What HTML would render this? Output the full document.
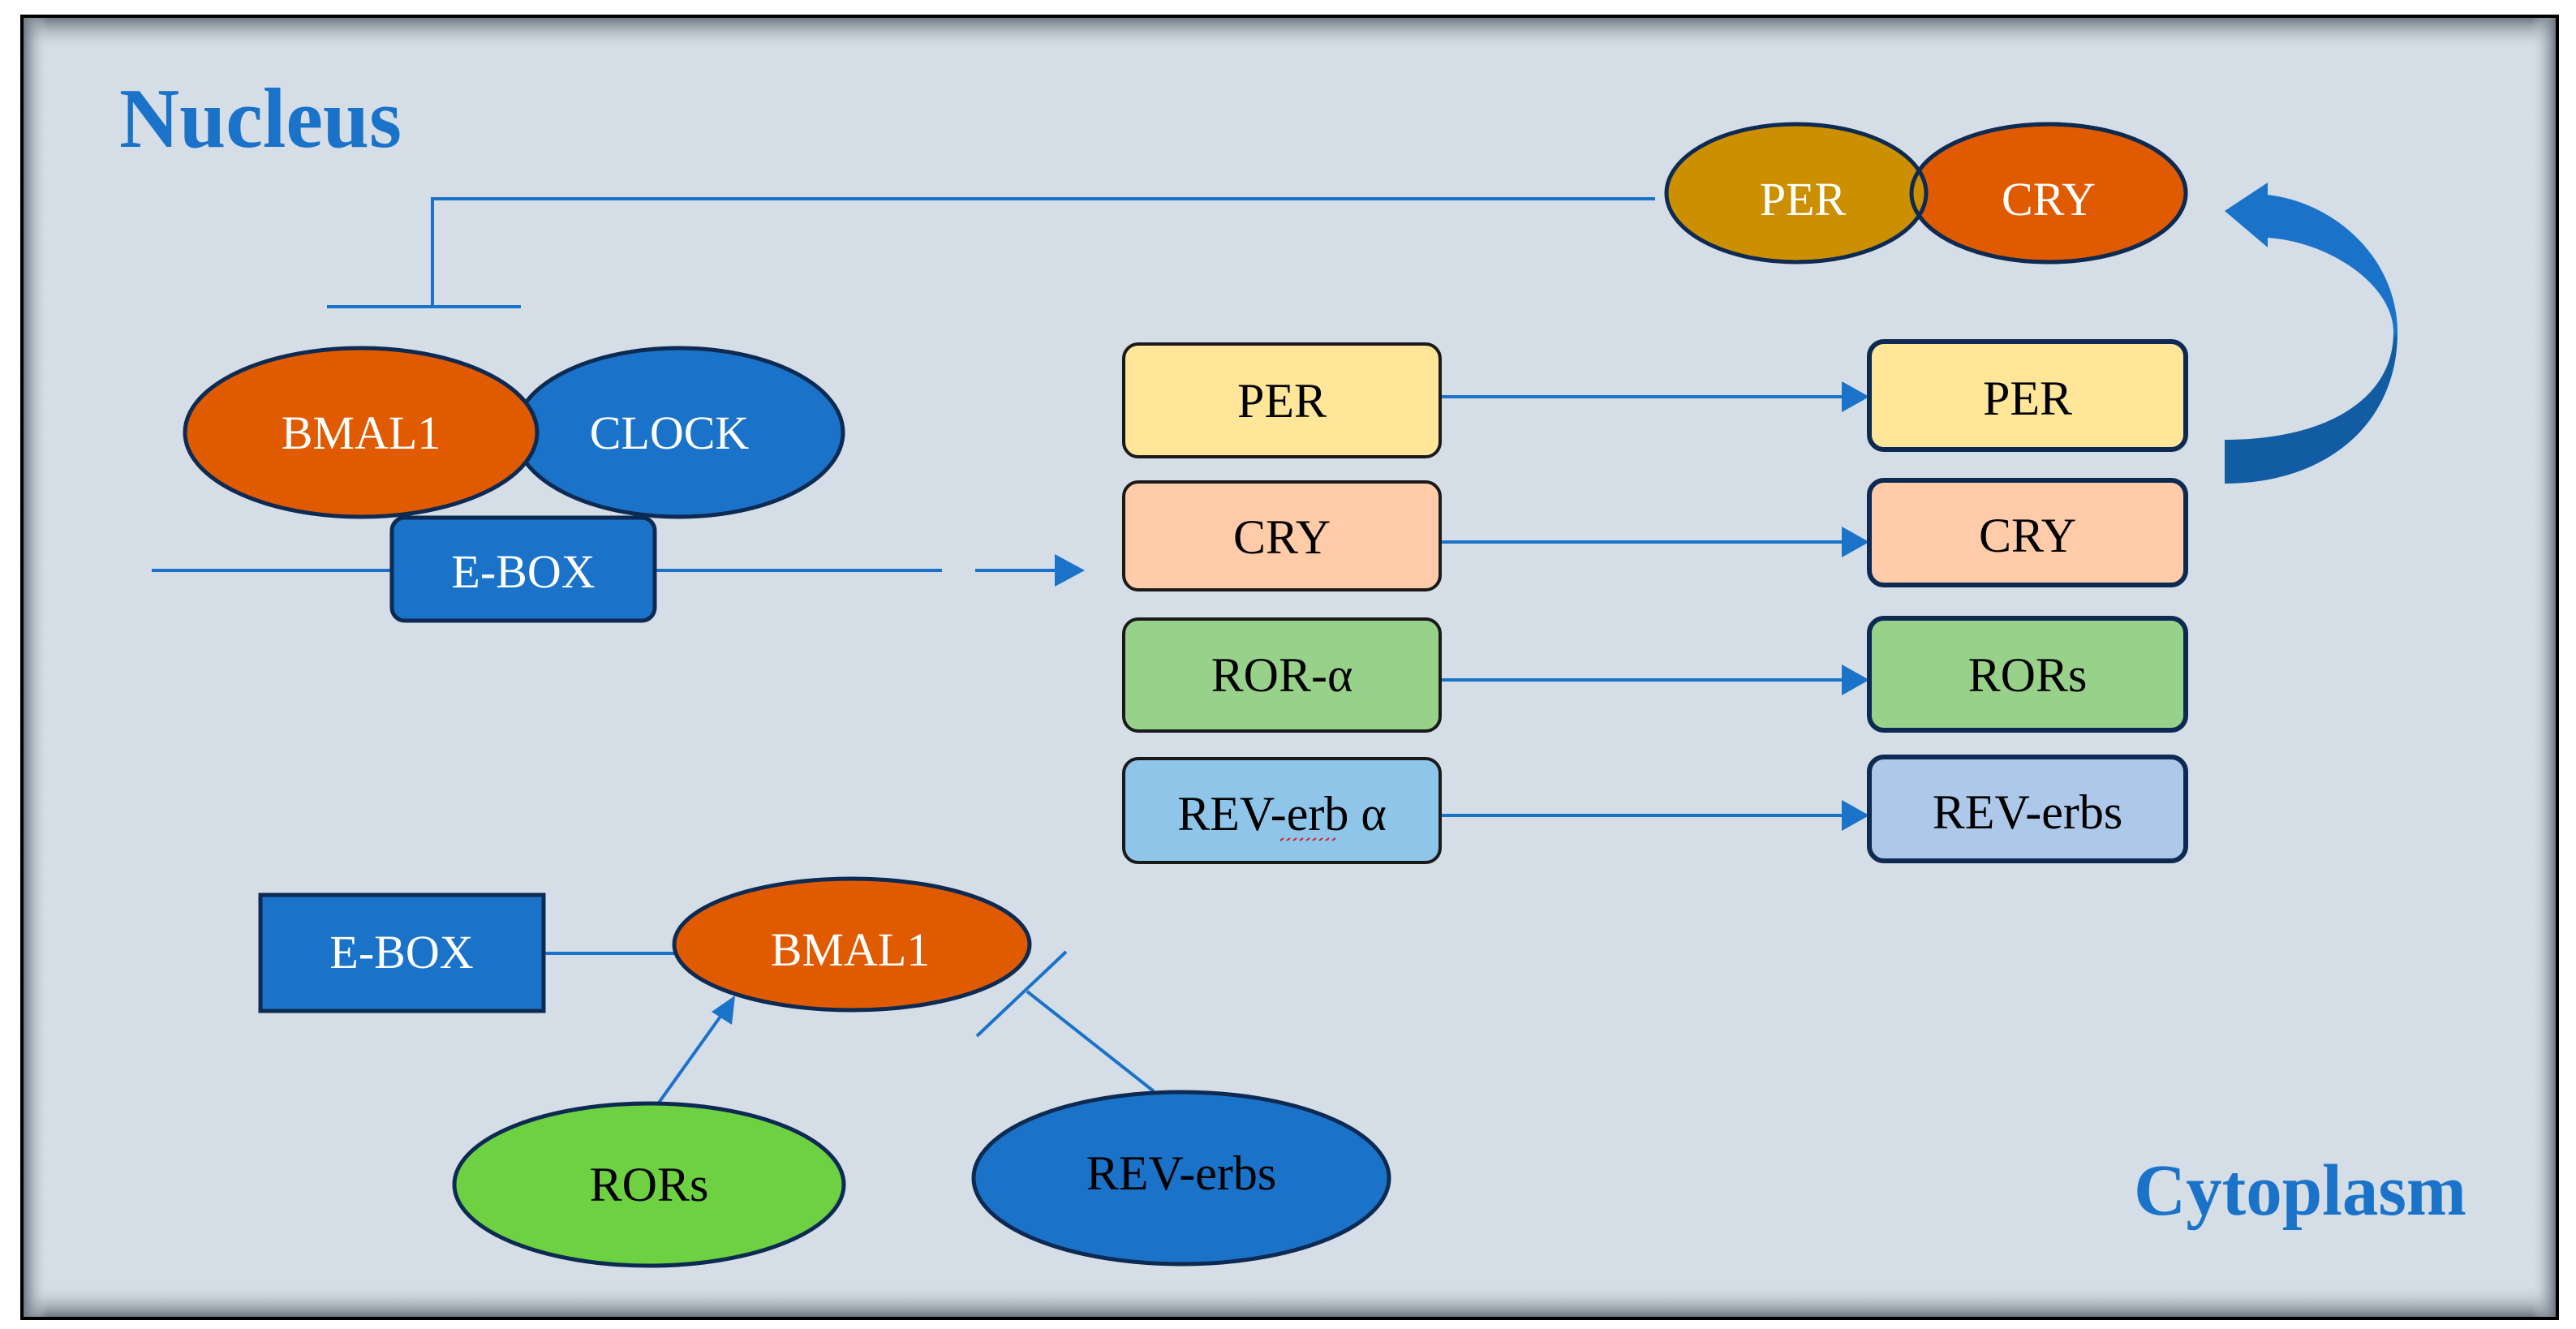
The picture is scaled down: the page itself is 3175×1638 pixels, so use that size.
<!DOCTYPE html>
<html><head><meta charset="utf-8"><style>
html,body{margin:0;padding:0;background:#fff;}
svg{display:block;}
text{font-family:"Liberation Serif",serif;}
</style></head><body>
<svg width="3175" height="1638" viewBox="0 0 3175 1638" xmlns="http://www.w3.org/2000/svg">
<defs>
<linearGradient id="arr" x1="0" y1="225" x2="0" y2="596" gradientUnits="userSpaceOnUse">
<stop offset="0" stop-color="#1a73c8"/><stop offset="0.5" stop-color="#1a73c8"/><stop offset="0.52" stop-color="#125ca3"/><stop offset="1" stop-color="#125ca3"/>
</linearGradient>
<linearGradient id="shT" x1="0" y1="0" x2="0" y2="1"><stop offset="0" stop-color="#6e7680"/><stop offset="1" stop-color="#d5dde6" stop-opacity="0"/></linearGradient>
<linearGradient id="shB" x1="0" y1="1" x2="0" y2="0"><stop offset="0" stop-color="#6e7680"/><stop offset="1" stop-color="#d5dde6" stop-opacity="0"/></linearGradient>
<linearGradient id="shL" x1="0" y1="0" x2="1" y2="0"><stop offset="0" stop-color="#6e7680"/><stop offset="1" stop-color="#d5dde6" stop-opacity="0"/></linearGradient>
<linearGradient id="shR" x1="1" y1="0" x2="0" y2="0"><stop offset="0" stop-color="#6e7680"/><stop offset="1" stop-color="#d5dde6" stop-opacity="0"/></linearGradient>
</defs>
<!-- frame -->
<rect x="27" y="20" width="3125" height="1605" fill="#d5dde6" stroke="#000" stroke-width="4"/>
<rect x="29" y="22" width="3121" height="40" fill="url(#shT)"/>
<rect x="29" y="1583" width="3121" height="40" fill="url(#shB)"/>
<rect x="29" y="22" width="30" height="1601" fill="url(#shL)"/>
<rect x="3120" y="22" width="30" height="1601" fill="url(#shR)"/>

<text x="147" y="181" font-size="105" font-weight="bold" fill="#1a73c8" textLength="348" lengthAdjust="spacingAndGlyphs">Nucleus</text>
<text x="2630" y="1497" font-size="90" font-weight="bold" fill="#1a73c8" textLength="410" lengthAdjust="spacingAndGlyphs">Cytoplasm</text>

<!-- inhibition from PER/CRY -->
<g stroke="#1a73c8" stroke-width="4" fill="none">
<polyline points="2040,245 533,245 533,378"/>
<line x1="403" y1="378" x2="642" y2="378"/>
<line x1="187" y1="703" x2="483" y2="703"/>
<line x1="807" y1="703" x2="1161" y2="703"/>
<line x1="1202" y1="703" x2="1305" y2="703"/>
<line x1="1775" y1="489" x2="2275" y2="489"/>
<line x1="1775" y1="668" x2="2275" y2="668"/>
<line x1="1775" y1="838" x2="2275" y2="838"/>
<line x1="1775" y1="1005" x2="2275" y2="1005"/>
<line x1="670" y1="1175" x2="835" y2="1175"/>
<line x1="807" y1="1366" x2="890" y2="1250"/>
<line x1="1422" y1="1345" x2="1266" y2="1222"/>
<line x1="1204" y1="1277" x2="1314" y2="1173"/>
</g>
<g fill="#1a73c8">
<polygon points="1337,703 1300,683 1300,723"/>
<polygon points="2304,489 2270,470 2270,508"/>
<polygon points="2304,668 2270,649 2270,687"/>
<polygon points="2304,838 2270,819 2270,857"/>
<polygon points="2304,1005 2270,986 2270,1024"/>
<polygon points="906,1227 877,1247 902,1263"/>
</g>

<!-- curved arrow -->
<path d="M2742,596 C2870,596 2955,520 2955,410 C2955,320 2880,250 2795,240 L2795,225 L2742,260 L2795,305 L2795,293 C2870,298 2950,350 2950,410 C2950,490 2870,542 2742,542 Z" fill="url(#arr)"/>

<!-- BMAL1/CLOCK -->
<g stroke="#0d2a52" stroke-width="5">
<ellipse cx="837" cy="533" rx="202" ry="104" fill="#1a73c8"/>
<ellipse cx="445" cy="533" rx="217" ry="104" fill="#e05a00"/>
<rect x="483" y="638" width="324" height="127" rx="16" fill="#1a73c8"/>
<ellipse cx="2525" cy="238" rx="169" ry="85" fill="#e05a00"/>
<ellipse cx="2214" cy="238" rx="160" ry="85" fill="#cc8f00"/>
<ellipse cx="2525" cy="238" rx="169" ry="85" fill="none"/>
<rect x="321" y="1103" width="349" height="143" fill="#1a73c8"/>
<ellipse cx="1050" cy="1164" rx="219" ry="81" fill="#e05a00"/>
<ellipse cx="800" cy="1460" rx="240" ry="100" fill="#6dd142"/>
<ellipse cx="1456" cy="1452" rx="256" ry="106" fill="#1a73c8"/>
</g>
<g stroke="#1a1a1a" stroke-width="4">
<rect x="1385" y="424" width="390" height="139" rx="18" fill="#ffe699"/>
<rect x="1385" y="594" width="390" height="133" rx="18" fill="#ffcba8"/>
<rect x="1385" y="763" width="390" height="138" rx="18" fill="#98d28a"/>
<rect x="1385" y="935" width="390" height="128" rx="18" fill="#8fc5e8"/>
</g>
<g stroke="#0d2a52" stroke-width="6">
<rect x="2304" y="421" width="390" height="133" rx="18" fill="#ffe699"/>
<rect x="2304" y="592" width="390" height="129" rx="18" fill="#ffcba8"/>
<rect x="2304" y="762" width="390" height="138" rx="18" fill="#98d28a"/>
<rect x="2304" y="933" width="390" height="128" rx="18" fill="#adc8e8"/>
</g>

<g font-size="58" fill="#fff" text-anchor="middle">
<text x="445" y="553">BMAL1</text>
<text x="825" y="553">CLOCK</text>
<text x="645" y="724">E-BOX</text>
<text x="2222" y="265">PER</text>
<text x="2525" y="265">CRY</text>
<text x="495" y="1193">E-BOX</text>
<text x="1048" y="1190">BMAL1</text>
</g>
<g font-size="60" fill="#000" text-anchor="middle">
<text x="1580" y="514">PER</text>
<text x="1580" y="682">CRY</text>
<text x="1580" y="852">ROR-α</text>
<text x="1580" y="1023">REV-erb α</text>
<text x="2499" y="511">PER</text>
<text x="2499" y="680">CRY</text>
<text x="2499" y="852">RORs</text>
<text x="2499" y="1021">REV-erbs</text>
<text x="800" y="1480">RORs</text>
<text x="1456" y="1466">REV-erbs</text>
</g>
<path d="M1578,1036 l4,-3 4,3 4,-3 4,3 4,-3 4,3 4,-3 4,3 4,-3 4,3 4,-3 4,3 4,-3 4,3 4,-3 4,3 4,-3 4,3" stroke="#d02020" stroke-width="2" fill="none" stroke-dasharray="5,5"/>
</svg>
</body></html>
